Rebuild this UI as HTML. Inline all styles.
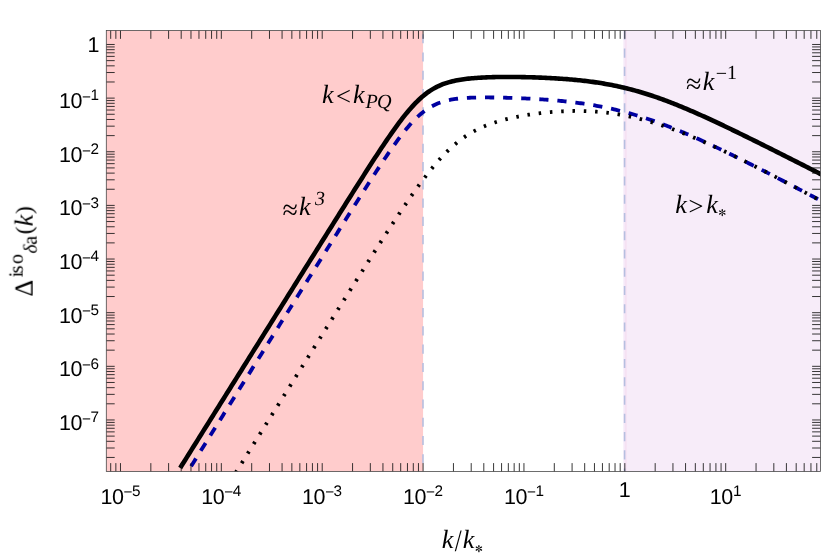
<!DOCTYPE html>
<html><head><meta charset="utf-8"><title>plot</title>
<style>
html,body{margin:0;padding:0;background:#fff;}
svg{display:block}
text{text-rendering:geometricPrecision}
.m{font-family:"Liberation Serif",serif;font-style:italic;font-size:26.5px;fill:#000}
.u{font-style:normal}
.t{font-family:"Liberation Sans",sans-serif;font-size:21.5px;fill:#000;letter-spacing:-0.45px}
.ts{font-size:15.3px}
</style></head><body>
<svg width="830" height="559" viewBox="0 0 830 559">
<rect x="0" y="0" width="830" height="559" fill="#ffffff"/>
<defs><filter id="gs" x="-5%" y="-5%" width="110%" height="110%" color-interpolation-filters="sRGB"><feColorMatrix type="matrix" values="1 0 0 0 0 0 1 0 0 0 0 0 1 0 0 0 0 0 1 0"/></filter><clipPath id="cp"><rect x="106.3" y="30.45" width="714.2" height="441.05"/></clipPath></defs>

<rect x="106.3" y="30.45" width="316.78" height="441.05" fill="#ffcccc"/>
<rect x="623.3" y="30.45" width="197.20" height="441.05" fill="#f7ecf9"/>
<rect x="624.7" y="30.45" width="2.1" height="441.05" fill="#f5e1f3"/>
<g clip-path="url(#cp)" stroke="#b6bfe0" stroke-width="1.6" fill="none" stroke-dasharray="9.13 9.13">
<path d="M423.0,34.2 V480"/>
<path d="M624.6,30.3 V480"/>
</g>
<g clip-path="url(#cp)" fill="none">
<path d="M180.20,467.91 L181.81,465.33 L183.42,462.76 L185.03,460.19 L186.64,457.62 L188.26,455.04 L189.87,452.47 L191.48,449.90 L193.09,447.33 L194.70,444.75 L196.31,442.18 L197.92,439.61 L199.53,437.04 L201.14,434.46 L202.75,431.89 L204.37,429.32 L205.98,426.75 L207.59,424.18 L209.20,421.60 L210.81,419.03 L212.42,416.46 L214.03,413.89 L215.64,411.31 L217.25,408.74 L218.86,406.17 L220.48,403.60 L222.09,401.02 L223.70,398.45 L225.31,395.88 L226.92,393.31 L228.53,390.73 L230.14,388.16 L231.75,385.59 L233.36,383.02 L234.97,380.45 L236.59,377.87 L238.20,375.30 L239.81,372.73 L241.42,370.16 L243.03,367.58 L244.64,365.01 L246.25,362.44 L247.86,359.87 L249.47,357.29 L251.09,354.72 L252.70,352.15 L254.31,349.58 L255.92,347.00 L257.53,344.43 L259.14,341.86 L260.75,339.29 L262.36,336.72 L263.97,334.14 L265.58,331.57 L267.20,329.00 L268.81,326.43 L270.42,323.85 L272.03,321.28 L273.64,318.71 L275.25,316.14 L276.86,313.57 L278.47,310.99 L280.08,308.42 L281.69,305.85 L283.31,303.28 L284.92,300.71 L286.53,298.13 L288.14,295.56 L289.75,292.99 L291.36,290.42 L292.97,287.85 L294.58,285.27 L296.19,282.70 L297.81,280.13 L299.42,277.56 L301.03,274.99 L302.64,272.42 L304.25,269.84 L305.86,267.27 L307.47,264.70 L309.08,262.13 L310.69,259.56 L312.30,256.99 L313.92,254.42 L315.53,251.85 L317.14,249.28 L318.75,246.71 L320.36,244.14 L321.97,241.57 L323.58,239.00 L325.19,236.43 L326.80,233.87 L328.41,231.30 L330.03,228.73 L331.64,226.16 L333.25,223.60 L334.86,221.03 L336.47,218.47 L338.08,215.91 L339.69,213.34 L341.30,210.78 L342.91,208.22 L344.52,205.66 L346.14,203.10 L347.75,200.55 L349.36,197.99 L350.97,195.44 L352.58,192.89 L354.19,190.34 L355.80,187.80 L357.41,185.26 L359.02,182.72 L360.64,180.18 L362.25,177.65 L363.86,175.13 L365.47,172.61 L367.08,170.09 L368.69,167.58 L370.30,165.08 L371.91,162.58 L373.52,160.10 L375.13,157.62 L376.75,155.15 L378.36,152.70 L379.97,150.26 L381.58,147.83 L383.19,145.41 L384.80,143.01 L386.41,140.63 L388.02,138.27 L389.63,135.93 L391.24,133.61 L392.86,131.32 L394.47,129.05 L396.08,126.82 L397.69,124.61 L399.30,122.44 L400.91,120.31 L402.52,118.21 L404.13,116.16 L405.74,114.15 L407.35,112.19 L408.97,110.28 L410.58,108.42 L412.19,106.62 L413.80,104.87 L415.41,103.18 L417.02,101.56 L418.63,99.99 L420.24,98.49 L421.85,97.06 L423.47,95.69 L425.08,94.39 L426.69,93.15 L428.30,91.98 L429.91,90.88 L431.52,89.84 L433.13,88.87 L434.74,87.95 L436.35,87.10 L437.96,86.30 L439.58,85.56 L441.19,84.87 L442.80,84.23 L444.41,83.63 L446.02,83.09 L447.63,82.58 L449.24,82.11 L450.85,81.68 L452.46,81.28 L454.07,80.91 L455.69,80.57 L457.30,80.25 L458.91,79.96 L460.52,79.70 L462.13,79.45 L463.74,79.22 L465.35,79.01 L466.96,78.81 L468.57,78.63 L470.18,78.47 L471.80,78.31 L473.41,78.17 L475.02,78.04 L476.63,77.92 L478.24,77.81 L479.85,77.70 L481.46,77.61 L483.07,77.52 L484.68,77.44 L486.30,77.37 L487.91,77.30 L489.52,77.24 L491.13,77.19 L492.74,77.14 L494.35,77.10 L495.96,77.07 L497.57,77.04 L499.18,77.01 L500.79,76.99 L502.41,76.98 L504.02,76.96 L505.63,76.96 L507.24,76.95 L508.85,76.96 L510.46,76.96 L512.07,76.97 L513.68,76.98 L515.29,77.00 L516.90,77.01 L518.52,77.04 L520.13,77.06 L521.74,77.09 L523.35,77.12 L524.96,77.16 L526.57,77.19 L528.18,77.23 L529.79,77.28 L531.40,77.32 L533.02,77.37 L534.63,77.42 L536.24,77.48 L537.85,77.54 L539.46,77.60 L541.07,77.66 L542.68,77.73 L544.29,77.80 L545.90,77.87 L547.51,77.95 L549.13,78.03 L550.74,78.11 L552.35,78.20 L553.96,78.29 L555.57,78.38 L557.18,78.48 L558.79,78.58 L560.40,78.69 L562.01,78.80 L563.62,78.92 L565.24,79.03 L566.85,79.16 L568.46,79.29 L570.07,79.42 L571.68,79.56 L573.29,79.70 L574.90,79.85 L576.51,80.01 L578.12,80.17 L579.73,80.33 L581.35,80.51 L582.96,80.68 L584.57,80.87 L586.18,81.06 L587.79,81.26 L589.40,81.46 L591.01,81.67 L592.62,81.89 L594.23,82.12 L595.85,82.35 L597.46,82.59 L599.07,82.83 L600.68,83.09 L602.29,83.35 L603.90,83.62 L605.51,83.90 L607.12,84.19 L608.73,84.48 L610.34,84.79 L611.96,85.10 L613.57,85.42 L615.18,85.75 L616.79,86.09 L618.40,86.44 L620.01,86.79 L621.62,87.16 L623.23,87.53 L624.84,87.91 L626.45,88.31 L628.07,88.71 L629.68,89.12 L631.29,89.54 L632.90,89.96 L634.51,90.40 L636.12,90.85 L637.73,91.30 L639.34,91.77 L640.95,92.24 L642.56,92.72 L644.18,93.21 L645.79,93.71 L647.40,94.22 L649.01,94.74 L650.62,95.26 L652.23,95.80 L653.84,96.34 L655.45,96.89 L657.06,97.44 L658.68,98.01 L660.29,98.58 L661.90,99.16 L663.51,99.75 L665.12,100.35 L666.73,100.95 L668.34,101.56 L669.95,102.18 L671.56,102.80 L673.17,103.43 L674.79,104.07 L676.40,104.71 L678.01,105.36 L679.62,106.02 L681.23,106.68 L682.84,107.35 L684.45,108.02 L686.06,108.70 L687.67,109.38 L689.28,110.07 L690.90,110.76 L692.51,111.46 L694.12,112.16 L695.73,112.87 L697.34,113.58 L698.95,114.29 L700.56,115.01 L702.17,115.74 L703.78,116.46 L705.39,117.19 L707.01,117.93 L708.62,118.67 L710.23,119.41 L711.84,120.15 L713.45,120.90 L715.06,121.65 L716.67,122.40 L718.28,123.16 L719.89,123.92 L721.51,124.68 L723.12,125.44 L724.73,126.21 L726.34,126.98 L727.95,127.75 L729.56,128.52 L731.17,129.30 L732.78,130.08 L734.39,130.86 L736.00,131.64 L737.62,132.42 L739.23,133.20 L740.84,133.99 L742.45,134.78 L744.06,135.57 L745.67,136.36 L747.28,137.15 L748.89,137.94 L750.50,138.74 L752.11,139.53 L753.73,140.33 L755.34,141.13 L756.95,141.93 L758.56,142.73 L760.17,143.53 L761.78,144.33 L763.39,145.13 L765.00,145.94 L766.61,146.74 L768.23,147.55 L769.84,148.36 L771.45,149.16 L773.06,149.97 L774.67,150.78 L776.28,151.59 L777.89,152.40 L779.50,153.21 L781.11,154.02 L782.72,154.83 L784.34,155.64 L785.95,156.46 L787.56,157.27 L789.17,158.08 L790.78,158.90 L792.39,159.71 L794.00,160.53 L795.61,161.34 L797.22,162.16 L798.83,162.97 L800.45,163.79 L802.06,164.61 L803.67,165.42 L805.28,166.24 L806.89,167.06 L808.50,167.88 L810.11,168.69 L811.72,169.51 L813.33,170.33 L814.94,171.15 L816.56,171.97 L818.17,172.79 L819.78,173.61 L821.39,174.43 L823.00,175.25" stroke="#000" stroke-width="4.6"/>
<path d="M191.10,466.21 L192.68,463.68 L194.27,461.15 L195.85,458.62 L197.43,456.09 L199.02,453.57 L200.60,451.04 L202.19,448.51 L203.77,445.98 L205.35,443.45 L206.94,440.92 L208.52,438.39 L210.10,435.87 L211.69,433.34 L213.27,430.81 L214.86,428.28 L216.44,425.75 L218.02,423.22 L219.61,420.69 L221.19,418.16 L222.77,415.64 L224.36,413.11 L225.94,410.58 L227.53,408.05 L229.11,405.52 L230.69,402.99 L232.28,400.46 L233.86,397.94 L235.44,395.41 L237.03,392.88 L238.61,390.35 L240.19,387.82 L241.78,385.29 L243.36,382.76 L244.95,380.23 L246.53,377.71 L248.11,375.18 L249.70,372.65 L251.28,370.12 L252.86,367.59 L254.45,365.06 L256.03,362.53 L257.62,360.01 L259.20,357.48 L260.78,354.95 L262.37,352.42 L263.95,349.89 L265.53,347.36 L267.12,344.83 L268.70,342.31 L270.29,339.78 L271.87,337.25 L273.45,334.72 L275.04,332.19 L276.62,329.66 L278.20,327.14 L279.79,324.61 L281.37,322.08 L282.96,319.55 L284.54,317.02 L286.12,314.49 L287.71,311.97 L289.29,309.44 L290.87,306.91 L292.46,304.38 L294.04,301.85 L295.62,299.33 L297.21,296.80 L298.79,294.27 L300.38,291.74 L301.96,289.21 L303.54,286.69 L305.13,284.16 L306.71,281.63 L308.29,279.10 L309.88,276.58 L311.46,274.05 L313.05,271.52 L314.63,269.00 L316.21,266.47 L317.80,263.94 L319.38,261.42 L320.96,258.89 L322.55,256.36 L324.13,253.84 L325.72,251.31 L327.30,248.79 L328.88,246.26 L330.47,243.74 L332.05,241.22 L333.63,238.69 L335.22,236.17 L336.80,233.65 L338.38,231.13 L339.97,228.61 L341.55,226.09 L343.14,223.57 L344.72,221.05 L346.30,218.54 L347.89,216.02 L349.47,213.51 L351.05,211.00 L352.64,208.49 L354.22,205.98 L355.81,203.48 L357.39,200.97 L358.97,198.47 L360.56,195.98 L362.14,193.49 L363.72,191.00 L365.31,188.51 L366.89,186.04 L368.48,183.56 L370.06,181.09 L371.64,178.63 L373.23,176.18 L374.81,173.74 L376.39,171.30 L377.98,168.88 L379.56,166.46 L381.15,164.06 L382.73,161.68 L384.31,159.30 L385.90,156.95 L387.48,154.61 L389.06,152.30 L390.65,150.00 L392.23,147.73 L393.81,145.49 L395.40,143.28 L396.98,141.10 L398.57,138.95 L400.15,136.84 L401.73,134.77 L403.32,132.74 L404.90,130.76 L406.48,128.82 L408.07,126.94 L409.65,125.11 L411.24,123.34 L412.82,121.63 L414.40,119.98 L415.99,118.40 L417.57,116.88 L419.15,115.43 L420.74,114.05 L422.32,112.74 L423.91,111.50 L425.49,110.32 L427.07,109.22 L428.66,108.19 L430.24,107.22 L431.82,106.32 L433.41,105.48 L434.99,104.71 L436.57,103.99 L438.16,103.33 L439.74,102.72 L441.33,102.17 L442.91,101.66 L444.49,101.19 L446.08,100.77 L447.66,100.38 L449.24,100.04 L450.83,99.72 L452.41,99.44 L454.00,99.18 L455.58,98.95 L457.16,98.75 L458.75,98.56 L460.33,98.40 L461.91,98.25 L463.50,98.13 L465.08,98.01 L466.67,97.91 L468.25,97.83 L469.83,97.75 L471.42,97.69 L473.00,97.63 L474.58,97.59 L476.17,97.55 L477.75,97.52 L479.34,97.49 L480.92,97.48 L482.50,97.46 L484.09,97.46 L485.67,97.46 L487.25,97.46 L488.84,97.47 L490.42,97.48 L492.00,97.49 L493.59,97.51 L495.17,97.53 L496.76,97.55 L498.34,97.58 L499.92,97.61 L501.51,97.65 L503.09,97.68 L504.67,97.72 L506.26,97.76 L507.84,97.80 L509.43,97.85 L511.01,97.90 L512.59,97.95 L514.18,98.00 L515.76,98.06 L517.34,98.12 L518.93,98.18 L520.51,98.24 L522.10,98.31 L523.68,98.38 L525.26,98.45 L526.85,98.53 L528.43,98.60 L530.01,98.68 L531.60,98.77 L533.18,98.85 L534.76,98.94 L536.35,99.03 L537.93,99.13 L539.52,99.23 L541.10,99.33 L542.68,99.43 L544.27,99.54 L545.85,99.66 L547.43,99.77 L549.02,99.89 L550.60,100.02 L552.19,100.14 L553.77,100.28 L555.35,100.41 L556.94,100.55 L558.52,100.70 L560.10,100.85 L561.69,101.00 L563.27,101.16 L564.86,101.32 L566.44,101.49 L568.02,101.66 L569.61,101.84 L571.19,102.03 L572.77,102.22 L574.36,102.41 L575.94,102.61 L577.53,102.82 L579.11,103.03 L580.69,103.25 L582.28,103.47 L583.86,103.70 L585.44,103.93 L587.03,104.18 L588.61,104.43 L590.19,104.68 L591.78,104.94 L593.36,105.21 L594.95,105.49 L596.53,105.77 L598.11,106.06 L599.70,106.35 L601.28,106.66 L602.86,106.97 L604.45,107.28 L606.03,107.61 L607.62,107.94 L609.20,108.28 L610.78,108.63 L612.37,108.98 L613.95,109.35 L615.53,109.72 L617.12,110.09 L618.70,110.48 L620.29,110.87 L621.87,111.27 L623.45,111.68 L625.04,112.10 L626.62,112.52 L628.20,112.95 L629.79,113.39 L631.37,113.84 L632.95,114.30 L634.54,114.76 L636.12,115.23 L637.71,115.71 L639.29,116.19 L640.87,116.69 L642.46,117.19 L644.04,117.69 L645.62,118.21 L647.21,118.73 L648.79,119.26 L650.38,119.80 L651.96,120.34 L653.54,120.90 L655.13,121.45 L656.71,122.02 L658.29,122.59 L659.88,123.17 L661.46,123.76 L663.05,124.35 L664.63,124.95 L666.21,125.55 L667.80,126.16 L669.38,126.78 L670.96,127.41 L672.55,128.03 L674.13,128.67 L675.72,129.31 L677.30,129.96 L678.88,130.61 L680.47,131.27 L682.05,131.93 L683.63,132.60 L685.22,133.27 L686.80,133.95 L688.38,134.63 L689.97,135.32 L691.55,136.01 L693.14,136.71 L694.72,137.41 L696.30,138.11 L697.89,138.82 L699.47,139.54 L701.05,140.25 L702.64,140.98 L704.22,141.70 L705.81,142.43 L707.39,143.16 L708.97,143.90 L710.56,144.64 L712.14,145.38 L713.72,146.13 L715.31,146.88 L716.89,147.63 L718.48,148.38 L720.06,149.14 L721.64,149.90 L723.23,150.67 L724.81,151.43 L726.39,152.20 L727.98,152.97 L729.56,153.74 L731.14,154.52 L732.73,155.30 L734.31,156.08 L735.90,156.86 L737.48,157.65 L739.06,158.43 L740.65,159.22 L742.23,160.01 L743.81,160.80 L745.40,161.60 L746.98,162.39 L748.57,163.19 L750.15,163.99 L751.73,164.79 L753.32,165.59 L754.90,166.39 L756.48,167.20 L758.07,168.00 L759.65,168.81 L761.24,169.62 L762.82,170.43 L764.40,171.24 L765.99,172.05 L767.57,172.86 L769.15,173.68 L770.74,174.49 L772.32,175.31 L773.91,176.13 L775.49,176.94 L777.07,177.76 L778.66,178.58 L780.24,179.40 L781.82,180.22 L783.41,181.05 L784.99,181.87 L786.57,182.69 L788.16,183.52 L789.74,184.34 L791.33,185.17 L792.91,185.99 L794.49,186.82 L796.08,187.65 L797.66,188.48 L799.24,189.31 L800.83,190.13 L802.41,190.96 L804.00,191.79 L805.58,192.63 L807.16,193.46 L808.75,194.29 L810.33,195.12 L811.91,195.95 L813.50,196.78 L815.08,197.62 L816.67,198.45 L818.25,199.29 L819.83,200.12 L821.42,200.95 L823.00,201.79" stroke="#0000a0" stroke-width="3.8" stroke-dasharray="9.2 8.91" stroke-dashoffset="0"/>
<path d="M235.77,472.55 L237.24,470.20 L238.71,467.85 L240.19,465.51 L241.66,463.16 L243.13,460.81 L244.60,458.46 L246.07,456.11 L247.54,453.76 L249.02,451.41 L250.49,449.06 L251.96,446.71 L253.43,444.36 L254.90,442.01 L256.37,439.66 L257.85,437.31 L259.32,434.96 L260.79,432.61 L262.26,430.26 L263.73,427.91 L265.21,425.57 L266.68,423.22 L268.15,420.87 L269.62,418.52 L271.09,416.17 L272.56,413.82 L274.04,411.47 L275.51,409.12 L276.98,406.77 L278.45,404.42 L279.92,402.08 L281.39,399.73 L282.87,397.38 L284.34,395.03 L285.81,392.68 L287.28,390.33 L288.75,387.98 L290.22,385.64 L291.70,383.29 L293.17,380.94 L294.64,378.59 L296.11,376.24 L297.58,373.89 L299.06,371.55 L300.53,369.20 L302.00,366.85 L303.47,364.50 L304.94,362.16 L306.41,359.81 L307.89,357.46 L309.36,355.12 L310.83,352.77 L312.30,350.42 L313.77,348.08 L315.24,345.73 L316.72,343.38 L318.19,341.04 L319.66,338.69 L321.13,336.35 L322.60,334.00 L324.08,331.66 L325.55,329.31 L327.02,326.97 L328.49,324.63 L329.96,322.28 L331.43,319.94 L332.91,317.60 L334.38,315.25 L335.85,312.91 L337.32,310.57 L338.79,308.23 L340.26,305.89 L341.74,303.55 L343.21,301.21 L344.68,298.87 L346.15,296.54 L347.62,294.20 L349.10,291.87 L350.57,289.53 L352.04,287.20 L353.51,284.87 L354.98,282.53 L356.45,280.20 L357.93,277.88 L359.40,275.55 L360.87,273.22 L362.34,270.90 L363.81,268.58 L365.28,266.25 L366.76,263.94 L368.23,261.62 L369.70,259.31 L371.17,256.99 L372.64,254.68 L374.11,252.38 L375.59,250.07 L377.06,247.77 L378.53,245.48 L380.00,243.18 L381.47,240.90 L382.95,238.61 L384.42,236.33 L385.89,234.05 L387.36,231.78 L388.83,229.52 L390.30,227.26 L391.78,225.01 L393.25,222.76 L394.72,220.52 L396.19,218.29 L397.66,216.07 L399.13,213.85 L400.61,211.65 L402.08,209.45 L403.55,207.27 L405.02,205.10 L406.49,202.93 L407.97,200.79 L409.44,198.65 L410.91,196.53 L412.38,194.42 L413.85,192.33 L415.32,190.26 L416.80,188.20 L418.27,186.17 L419.74,184.15 L421.21,182.15 L422.68,180.18 L424.15,178.22 L425.63,176.29 L427.10,174.39 L428.57,172.51 L430.04,170.66 L431.51,168.84 L432.99,167.05 L434.46,165.28 L435.93,163.55 L437.40,161.85 L438.87,160.18 L440.34,158.55 L441.82,156.95 L443.29,155.39 L444.76,153.86 L446.23,152.37 L447.70,150.92 L449.17,149.50 L450.65,148.12 L452.12,146.78 L453.59,145.48 L455.06,144.22 L456.53,142.99 L458.00,141.80 L459.48,140.65 L460.95,139.54 L462.42,138.46 L463.89,137.42 L465.36,136.42 L466.84,135.45 L468.31,134.51 L469.78,133.61 L471.25,132.74 L472.72,131.90 L474.19,131.09 L475.67,130.32 L477.14,129.57 L478.61,128.84 L480.08,128.15 L481.55,127.48 L483.02,126.83 L484.50,126.21 L485.97,125.61 L487.44,125.03 L488.91,124.47 L490.38,123.94 L491.86,123.42 L493.33,122.92 L494.80,122.44 L496.27,121.97 L497.74,121.52 L499.21,121.08 L500.69,120.66 L502.16,120.26 L503.63,119.86 L505.10,119.48 L506.57,119.11 L508.04,118.75 L509.52,118.41 L510.99,118.07 L512.46,117.74 L513.93,117.43 L515.40,117.12 L516.88,116.82 L518.35,116.53 L519.82,116.25 L521.29,115.98 L522.76,115.72 L524.23,115.46 L525.71,115.22 L527.18,114.98 L528.65,114.74 L530.12,114.52 L531.59,114.30 L533.06,114.09 L534.54,113.88 L536.01,113.69 L537.48,113.50 L538.95,113.31 L540.42,113.13 L541.89,112.96 L543.37,112.80 L544.84,112.64 L546.31,112.49 L547.78,112.35 L549.25,112.21 L550.73,112.08 L552.20,111.96 L553.67,111.84 L555.14,111.74 L556.61,111.63 L558.08,111.54 L559.56,111.45 L561.03,111.37 L562.50,111.29 L563.97,111.23 L565.44,111.17 L566.91,111.11 L568.39,111.07 L569.86,111.03 L571.33,111.00 L572.80,110.98 L574.27,110.96 L575.75,110.95 L577.22,110.95 L578.69,110.96 L580.16,110.98 L581.63,111.00 L583.10,111.04 L584.58,111.08 L586.05,111.12 L587.52,111.18 L588.99,111.25 L590.46,111.32 L591.93,111.40 L593.41,111.49 L594.88,111.59 L596.35,111.70 L597.82,111.82 L599.29,111.94 L600.77,112.08 L602.24,112.22 L603.71,112.37 L605.18,112.54 L606.65,112.71 L608.12,112.88 L609.60,113.07 L611.07,113.27 L612.54,113.47 L614.01,113.69 L615.48,113.91 L616.95,114.15 L618.43,114.39 L619.90,114.64 L621.37,114.90 L622.84,115.17 L624.31,115.44 L625.78,115.73 L627.26,116.03 L628.73,116.33 L630.20,116.64 L631.67,116.97 L633.14,117.30 L634.62,117.64 L636.09,117.98 L637.56,118.34 L639.03,118.71 L640.50,119.08 L641.97,119.46 L643.45,119.85 L644.92,120.25 L646.39,120.66 L647.86,121.07 L649.33,121.49 L650.80,121.92 L652.28,122.36 L653.75,122.81 L655.22,123.26 L656.69,123.72 L658.16,124.19 L659.64,124.67 L661.11,125.15 L662.58,125.64 L664.05,126.14 L665.52,126.64 L666.99,127.16 L668.47,127.67 L669.94,128.20 L671.41,128.73 L672.88,129.27 L674.35,129.81 L675.82,130.36 L677.30,130.92 L678.77,131.48 L680.24,132.05 L681.71,132.62 L683.18,133.20 L684.66,133.79 L686.13,134.38 L687.60,134.97 L689.07,135.58 L690.54,136.18 L692.01,136.79 L693.49,137.41 L694.96,138.03 L696.43,138.66 L697.90,139.29 L699.37,139.92 L700.84,140.56 L702.32,141.20 L703.79,141.85 L705.26,142.50 L706.73,143.16 L708.20,143.82 L709.67,144.48 L711.15,145.15 L712.62,145.82 L714.09,146.50 L715.56,147.17 L717.03,147.86 L718.51,148.54 L719.98,149.23 L721.45,149.92 L722.92,150.61 L724.39,151.31 L725.86,152.01 L727.34,152.72 L728.81,153.42 L730.28,154.13 L731.75,154.84 L733.22,155.55 L734.69,156.27 L736.17,156.99 L737.64,157.71 L739.11,158.43 L740.58,159.16 L742.05,159.89 L743.53,160.62 L745.00,161.35 L746.47,162.08 L747.94,162.82 L749.41,163.56 L750.88,164.29 L752.36,165.04 L753.83,165.78 L755.30,166.52 L756.77,167.27 L758.24,168.02 L759.71,168.77 L761.19,169.52 L762.66,170.27 L764.13,171.03 L765.60,171.78 L767.07,172.54 L768.55,173.30 L770.02,174.05 L771.49,174.82 L772.96,175.58 L774.43,176.34 L775.90,177.10 L777.38,177.87 L778.85,178.64 L780.32,179.40 L781.79,180.17 L783.26,180.94 L784.73,181.71 L786.21,182.48 L787.68,183.25 L789.15,184.03 L790.62,184.80 L792.09,185.57 L793.56,186.35 L795.04,187.12 L796.51,187.90 L797.98,188.68 L799.45,189.46 L800.92,190.24 L802.40,191.02 L803.87,191.80 L805.34,192.58 L806.81,193.36 L808.28,194.14 L809.75,194.92 L811.23,195.70 L812.70,196.49 L814.17,197.27 L815.64,198.06 L817.11,198.84 L818.58,199.63 L820.06,200.41 L821.53,201.20 L823.00,201.99" stroke="#000" stroke-width="3.8" stroke-dasharray="2.5 8.808" stroke-dashoffset="0.2"/>
</g>
<path d="M110.69,471.5v-8.4M110.69,30.45v8.4M115.85,471.5v-8.4M115.85,30.45v8.4M120.47,471.5v-8.4M120.47,30.45v8.4M150.83,471.5v-8.4M150.83,30.45v8.4M168.60,471.5v-8.4M168.60,30.45v8.4M181.20,471.5v-8.4M181.20,30.45v8.4M190.98,471.5v-8.4M190.98,30.45v8.4M198.96,471.5v-8.4M198.96,30.45v8.4M205.72,471.5v-8.4M205.72,30.45v8.4M211.56,471.5v-8.4M211.56,30.45v8.4M216.72,471.5v-8.4M216.72,30.45v8.4M221.34,471.5v-8.4M221.34,30.45v8.4M251.70,471.5v-8.4M251.70,30.45v8.4M269.47,471.5v-8.4M269.47,30.45v8.4M282.07,471.5v-8.4M282.07,30.45v8.4M291.85,471.5v-8.4M291.85,30.45v8.4M299.83,471.5v-8.4M299.83,30.45v8.4M306.59,471.5v-8.4M306.59,30.45v8.4M312.43,471.5v-8.4M312.43,30.45v8.4M317.59,471.5v-8.4M317.59,30.45v8.4M322.21,471.5v-8.4M322.21,30.45v8.4M352.57,471.5v-8.4M352.57,30.45v8.4M370.34,471.5v-8.4M370.34,30.45v8.4M382.94,471.5v-8.4M382.94,30.45v8.4M392.72,471.5v-8.4M392.72,30.45v8.4M400.70,471.5v-8.4M400.70,30.45v8.4M407.46,471.5v-8.4M407.46,30.45v8.4M413.30,471.5v-8.4M413.30,30.45v8.4M418.46,471.5v-8.4M418.46,30.45v8.4M423.08,471.5v-8.4M423.08,30.45v8.4M453.44,471.5v-8.4M453.44,30.45v8.4M471.21,471.5v-8.4M471.21,30.45v8.4M483.81,471.5v-8.4M483.81,30.45v8.4M493.59,471.5v-8.4M493.59,30.45v8.4M501.57,471.5v-8.4M501.57,30.45v8.4M508.33,471.5v-8.4M508.33,30.45v8.4M514.17,471.5v-8.4M514.17,30.45v8.4M519.33,471.5v-8.4M519.33,30.45v8.4M523.95,471.5v-8.4M523.95,30.45v8.4M554.31,471.5v-8.4M554.31,30.45v8.4M572.08,471.5v-8.4M572.08,30.45v8.4M584.68,471.5v-8.4M584.68,30.45v8.4M594.46,471.5v-8.4M594.46,30.45v8.4M602.44,471.5v-8.4M602.44,30.45v8.4M609.20,471.5v-8.4M609.20,30.45v8.4M615.04,471.5v-8.4M615.04,30.45v8.4M620.20,471.5v-8.4M620.20,30.45v8.4M624.82,471.5v-8.4M624.82,30.45v8.4M655.18,471.5v-8.4M655.18,30.45v8.4M672.95,471.5v-8.4M672.95,30.45v8.4M685.55,471.5v-8.4M685.55,30.45v8.4M695.33,471.5v-8.4M695.33,30.45v8.4M703.31,471.5v-8.4M703.31,30.45v8.4M710.07,471.5v-8.4M710.07,30.45v8.4M715.91,471.5v-8.4M715.91,30.45v8.4M721.07,471.5v-8.4M721.07,30.45v8.4M725.69,471.5v-8.4M725.69,30.45v8.4M756.05,471.5v-8.4M756.05,30.45v8.4M773.82,471.5v-8.4M773.82,30.45v8.4M786.42,471.5v-8.4M786.42,30.45v8.4M796.20,471.5v-8.4M796.20,30.45v8.4M804.18,471.5v-8.4M804.18,30.45v8.4M810.94,471.5v-8.4M810.94,30.45v8.4M816.78,471.5v-8.4M816.78,30.45v8.4M106.3,457.45h8.4M820.5,457.45h-8.4M106.3,448.01h8.4M820.5,448.01h-8.4M106.3,441.31h8.4M820.5,441.31h-8.4M106.3,436.11h8.4M820.5,436.11h-8.4M106.3,431.86h8.4M820.5,431.86h-8.4M106.3,428.27h8.4M820.5,428.27h-8.4M106.3,425.16h8.4M820.5,425.16h-8.4M106.3,422.41h8.4M820.5,422.41h-8.4M106.3,419.96h8.4M820.5,419.96h-8.4M106.3,403.81h8.4M820.5,403.81h-8.4M106.3,394.37h8.4M820.5,394.37h-8.4M106.3,387.67h8.4M820.5,387.67h-8.4M106.3,382.47h8.4M820.5,382.47h-8.4M106.3,378.22h8.4M820.5,378.22h-8.4M106.3,374.63h8.4M820.5,374.63h-8.4M106.3,371.52h8.4M820.5,371.52h-8.4M106.3,368.77h8.4M820.5,368.77h-8.4M106.3,366.32h8.4M820.5,366.32h-8.4M106.3,350.17h8.4M820.5,350.17h-8.4M106.3,340.73h8.4M820.5,340.73h-8.4M106.3,334.03h8.4M820.5,334.03h-8.4M106.3,328.83h8.4M820.5,328.83h-8.4M106.3,324.58h8.4M820.5,324.58h-8.4M106.3,320.99h8.4M820.5,320.99h-8.4M106.3,317.88h8.4M820.5,317.88h-8.4M106.3,315.13h8.4M820.5,315.13h-8.4M106.3,312.68h8.4M820.5,312.68h-8.4M106.3,296.53h8.4M820.5,296.53h-8.4M106.3,287.09h8.4M820.5,287.09h-8.4M106.3,280.39h8.4M820.5,280.39h-8.4M106.3,275.19h8.4M820.5,275.19h-8.4M106.3,270.94h8.4M820.5,270.94h-8.4M106.3,267.35h8.4M820.5,267.35h-8.4M106.3,264.24h8.4M820.5,264.24h-8.4M106.3,261.49h8.4M820.5,261.49h-8.4M106.3,259.04h8.4M820.5,259.04h-8.4M106.3,242.89h8.4M820.5,242.89h-8.4M106.3,233.45h8.4M820.5,233.45h-8.4M106.3,226.75h8.4M820.5,226.75h-8.4M106.3,221.55h8.4M820.5,221.55h-8.4M106.3,217.30h8.4M820.5,217.30h-8.4M106.3,213.71h8.4M820.5,213.71h-8.4M106.3,210.60h8.4M820.5,210.60h-8.4M106.3,207.85h8.4M820.5,207.85h-8.4M106.3,205.40h8.4M820.5,205.40h-8.4M106.3,189.25h8.4M820.5,189.25h-8.4M106.3,179.81h8.4M820.5,179.81h-8.4M106.3,173.11h8.4M820.5,173.11h-8.4M106.3,167.91h8.4M820.5,167.91h-8.4M106.3,163.66h8.4M820.5,163.66h-8.4M106.3,160.07h8.4M820.5,160.07h-8.4M106.3,156.96h8.4M820.5,156.96h-8.4M106.3,154.21h8.4M820.5,154.21h-8.4M106.3,151.76h8.4M820.5,151.76h-8.4M106.3,135.61h8.4M820.5,135.61h-8.4M106.3,126.17h8.4M820.5,126.17h-8.4M106.3,119.47h8.4M820.5,119.47h-8.4M106.3,114.27h8.4M820.5,114.27h-8.4M106.3,110.02h8.4M820.5,110.02h-8.4M106.3,106.43h8.4M820.5,106.43h-8.4M106.3,103.32h8.4M820.5,103.32h-8.4M106.3,100.57h8.4M820.5,100.57h-8.4M106.3,98.12h8.4M820.5,98.12h-8.4M106.3,81.97h8.4M820.5,81.97h-8.4M106.3,72.53h8.4M820.5,72.53h-8.4M106.3,65.83h8.4M820.5,65.83h-8.4M106.3,60.63h8.4M820.5,60.63h-8.4M106.3,56.38h8.4M820.5,56.38h-8.4M106.3,52.79h8.4M820.5,52.79h-8.4M106.3,49.68h8.4M820.5,49.68h-8.4M106.3,46.93h8.4M820.5,46.93h-8.4M106.3,44.48h8.4M820.5,44.48h-8.4" stroke="#141414" stroke-width="0.85" fill="none"/>
<rect x="106.3" y="30.45" width="714.20" height="441.05" fill="none" stroke="#454545" stroke-width="0.78"/>
<g filter="url(#gs)">
<text class="t" x="120.2" y="503.6" text-anchor="middle">10<tspan class="ts" dy="-6.199999999999999">−</tspan><tspan class="ts" dy="-1.4">5</tspan></text>
<text class="t" x="221.0" y="503.6" text-anchor="middle">10<tspan class="ts" dy="-6.199999999999999">−</tspan><tspan class="ts" dy="-1.4">4</tspan></text>
<text class="t" x="321.9" y="503.6" text-anchor="middle">10<tspan class="ts" dy="-6.199999999999999">−</tspan><tspan class="ts" dy="-1.4">3</tspan></text>
<text class="t" x="422.8" y="503.6" text-anchor="middle">10<tspan class="ts" dy="-6.199999999999999">−</tspan><tspan class="ts" dy="-1.4">2</tspan></text>
<text class="t" x="523.7" y="503.6" text-anchor="middle">10<tspan class="ts" dy="-6.199999999999999">−</tspan><tspan class="ts" dy="-1.4">1</tspan></text>
<text class="t" x="624.5" y="497.3" text-anchor="middle">1</text>
<text class="t" x="725.4" y="503.6" text-anchor="middle">10<tspan class="ts" dy="-7.6">1</tspan></text>
<text class="t" x="98.6" y="429.9" text-anchor="end">10<tspan class="ts" dy="-6.199999999999999">−</tspan><tspan class="ts" dy="-1.4">7</tspan></text>
<text class="t" x="98.6" y="376.2" text-anchor="end">10<tspan class="ts" dy="-6.199999999999999">−</tspan><tspan class="ts" dy="-1.4">6</tspan></text>
<text class="t" x="98.6" y="322.6" text-anchor="end">10<tspan class="ts" dy="-6.199999999999999">−</tspan><tspan class="ts" dy="-1.4">5</tspan></text>
<text class="t" x="98.6" y="268.9" text-anchor="end">10<tspan class="ts" dy="-6.199999999999999">−</tspan><tspan class="ts" dy="-1.4">4</tspan></text>
<text class="t" x="98.6" y="215.3" text-anchor="end">10<tspan class="ts" dy="-6.199999999999999">−</tspan><tspan class="ts" dy="-1.4">3</tspan></text>
<text class="t" x="98.6" y="161.7" text-anchor="end">10<tspan class="ts" dy="-6.199999999999999">−</tspan><tspan class="ts" dy="-1.4">2</tspan></text>
<text class="t" x="98.6" y="108.0" text-anchor="end">10<tspan class="ts" dy="-6.199999999999999">−</tspan><tspan class="ts" dy="-1.4">1</tspan></text>
<text class="t" x="98.9" y="51.5" text-anchor="end">1</text>
<text class="m"><tspan x="321.94" y="102.70" font-size="26.3">k</tspan><tspan x="334.21" y="105.12" font-size="26.7">&lt;</tspan><tspan x="353.04" y="102.80" font-size="26.3">k</tspan><tspan x="365.61" y="107.50" font-size="20.2">P</tspan><tspan x="377.09" y="107.50" font-size="20.2">Q</tspan></text>
<text class="m"><tspan class="u" x="282.59" y="218.97" font-size="28">≈</tspan><tspan x="298.94" y="215.30" font-size="26.3">k</tspan><tspan x="314.96" y="204.80" font-size="20">3</tspan></text>
<text class="m"><tspan class="u" x="686.04" y="92.72" font-size="28">≈</tspan><tspan x="702.74" y="89.50" font-size="26.3">k</tspan><tspan class="u" x="715.65" y="79.94" font-size="20">−</tspan><tspan class="u" x="726.92" y="78.60" font-size="20">1</tspan></text>
<text class="m"><tspan x="675.24" y="212.50" font-size="26.3">k</tspan><tspan x="686.76" y="214.92" font-size="26.7">&gt;</tspan><tspan x="706.24" y="212.50" font-size="26.3">k</tspan></text>
<path d="M722.25,212.55L722.25,210.00M722.25,212.55L724.46,211.27M722.25,212.55L720.04,211.27M722.25,212.55L722.25,215.11M722.25,212.55L720.04,213.83M722.25,212.55L724.46,213.83" stroke="#000" stroke-width="0.6" fill="none"/><path d="M722.25,210.54L722.25,209.50M723.99,211.55L724.89,211.03M720.51,211.55L719.61,211.03M722.25,214.56L722.25,215.60M720.51,213.55L719.61,214.08M723.99,213.55L724.89,214.08" stroke="#000" stroke-width="1.25" stroke-linecap="round" fill="none"/>
<text class="m"><tspan x="441.64" y="547.60" font-size="26.3">k</tspan><tspan x="462.74" y="547.60" font-size="26.3">k</tspan></text>
<text class="m u" transform="translate(454.85,551.37) scale(0.8,1)" style="font-size:31.0px" x="0" y="0">/</text>
<path d="M478.90,548.60L478.90,546.05M478.90,548.60L481.11,547.32M478.90,548.60L476.69,547.32M478.90,548.60L478.90,551.15M478.90,548.60L476.69,549.88M478.90,548.60L481.11,549.88" stroke="#000" stroke-width="0.6" fill="none"/><path d="M478.90,546.59L478.90,545.55M480.64,547.60L481.54,547.08M477.16,547.60L476.26,547.08M478.90,550.61L478.90,551.65M477.16,549.60L476.26,550.12M480.64,549.60L481.54,550.12" stroke="#000" stroke-width="1.25" stroke-linecap="round" fill="none"/>
<g transform="translate(32.65,296.8) rotate(-90)"><text class="m"><tspan class="u" x="0.21" y="0.00" font-size="26">Δ</tspan><tspan class="u" x="19.57" y="-9.55" font-size="20.3">i</tspan><tspan class="u" x="23.57" y="-9.55" font-size="20.3">s</tspan><tspan class="u" x="32.67" y="-9.55" font-size="20.3">o</tspan><tspan x="43.13" y="4.20" font-size="19.5">δ</tspan><tspan class="u" x="52.09" y="4.20" font-size="20.3">a</tspan><tspan class="u" x="62.56" y="-0.65" font-size="23.6">(</tspan><tspan x="70.44" y="0.05" font-size="26.3">k</tspan><tspan class="u" x="82.74" y="-0.65" font-size="23.6">)</tspan></text></g>
</g>
</svg></body></html>
